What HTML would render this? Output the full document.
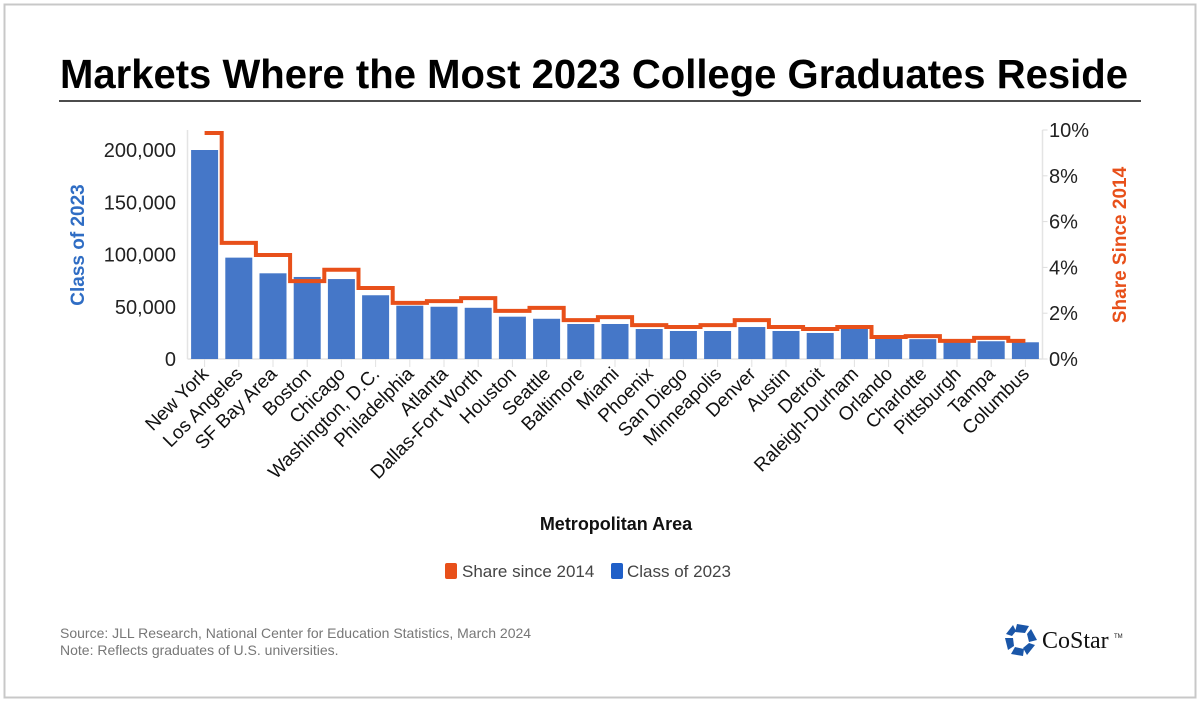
<!DOCTYPE html>
<html><head><meta charset="utf-8"><style>
html,body{margin:0;padding:0;background:#fff}
svg{display:block;font-family:"Liberation Sans",Arial,sans-serif}
</style></head><body>
<svg id="chart" width="1200" height="702" viewBox="0 0 1200 702" xmlns="http://www.w3.org/2000/svg">
<rect x="4.5" y="4.5" width="1191" height="693" fill="#fff" stroke="#c8c8c8" stroke-width="2"/>
<text x="60" y="88" font-size="41" font-weight="bold" fill="#000" textLength="1068" lengthAdjust="spacingAndGlyphs">Markets Where the Most 2023 College Graduates Reside</text>
<line x1="59" y1="101" x2="1141" y2="101" stroke="#111" stroke-width="1.5"/>
<g id="axes"></g>
<g id="bars"></g>
<path id="share-line" fill="none" stroke="#e8501a" stroke-width="4"/>
<g id="xlabels"></g>
<text transform="translate(84,245) rotate(-90)" text-anchor="middle" font-size="19" font-weight="bold" fill="#2f6dc4">Class of 2023</text>
<text transform="translate(1126,245) rotate(-90)" text-anchor="middle" font-size="19" font-weight="bold" fill="#e8501a">Share Since 2014</text>
<text x="616" y="530" text-anchor="middle" font-size="18" font-weight="bold" fill="#111">Metropolitan Area</text>
<g>
<rect x="445" y="563" width="12" height="16" rx="2" fill="#e8501a"/>
<text x="462" y="577" font-size="17" fill="#444">Share since 2014</text>
<rect x="611" y="563" width="12" height="16" rx="2" fill="#1f5fc8"/>
<text x="627" y="577" font-size="17" fill="#444">Class of 2023</text>
</g>
<text x="60" y="638" font-size="14" fill="#777">Source: JLL Research, National Center for Education Statistics, March 2024</text>
<text x="60" y="655" font-size="14" fill="#777">Note: Reflects graduates of U.S. universities.</text>
<g>
<g transform="translate(1021,640)" fill="#1a56a8">
<polygon points="-4,-16 8,-14 4,-7 -6,-8"/>
<polygon points="10,-11 16,0 8,2 6,-6"/>
<polygon points="14,5 6,15 2,8 8,3"/>
<polygon points="2,16 -10,14 -6,7 3,9"/>
<polygon points="-13,10 -16,-2 -8,-2 -7,6"/>
<polygon points="-15,-6 -8,-15 -5,-9 -9,-4"/>
</g>
<text x="1042" y="648" font-family="Liberation Serif,serif" font-size="24" fill="#111">CoStar</text>
<text x="1114" y="638" font-size="6" fill="#111">TM</text>
</g>
</svg>
<script>
const categories=["New York","Los Angeles","SF Bay Area","Boston","Chicago","Washington, D.C.","Philadelphia","Atlanta","Dallas-Fort Worth","Houston","Seattle","Baltimore","Miami","Phoenix","San Diego","Minneapolis","Denver","Austin","Detroit","Raleigh-Durham","Orlando","Charlotte","Pittsburgh","Tampa","Columbus"];
const classValues=[200000,97000,82000,78500,76500,61000,51000,50000,49000,40500,38500,33500,33500,28700,26800,26800,30600,26800,24900,29700,20000,19000,17000,17000,16000];
const shareValues=[9.87,5.07,4.54,3.4,3.9,3.1,2.45,2.53,2.66,2.1,2.23,1.7,1.83,1.48,1.4,1.48,1.7,1.4,1.31,1.4,0.96,1.0,0.79,0.92,0.79];
const leftTicks=[0,50000,100000,150000,200000];
const leftTickLabels=["0","50,000","100,000","150,000","200,000"];
const rightTicks=[0,2,4,6,8,10];
const rightTickLabels=["0%","2%","4%","6%","8%","10%"];

const NS="http://www.w3.org/2000/svg";
const X0=187.5,X1=1042.5,Y0=359,YT=130;
const pitch=(X1-X0)/categories.length;
const xc=i=>X0+pitch*(i+0.5);
const yL=v=>Y0-v*(Y0-150)/200000;
const yR=v=>Y0-v*(Y0-YT)/10;
function mk(tag,attrs,parent,txt){const e=document.createElementNS(NS,tag);for(const k in attrs)e.setAttribute(k,attrs[k]);if(txt!==undefined)e.textContent=txt;parent.appendChild(e);return e;}
const axes=document.getElementById('axes');
let l=mk('line',{x1:X0,y1:YT,x2:X0,y2:Y0,stroke:'#e4e4e4','stroke-width':1.5},axes);


l=mk('line',{x1:X1,y1:YT,x2:X1,y2:Y0,stroke:'#e4e4e4','stroke-width':1.5},axes);


l=mk('line',{x1:X0,y1:Y0,x2:X1,y2:Y0,stroke:'#e4e4e4','stroke-width':1.5},axes);


leftTicks.forEach((t,i)=>{
  const tx=mk('text',{x:176,y:yL(t)+7,'text-anchor':'end','font-size':20,fill:'#222'},axes,leftTickLabels[i]);
  
  
});
rightTicks.forEach((t,i)=>{
  const tk=mk('line',{x1:X1,y1:yR(t),x2:X1+5,y2:yR(t),stroke:'#ddd'},axes);
  
  
  const tx=mk('text',{x:1049,y:yR(t)+7,'font-size':20,fill:'#222'},axes,rightTickLabels[i]);
  
  
});
const bars=document.getElementById('bars');
const xl=document.getElementById('xlabels');
categories.forEach((c,i)=>{
  const b=mk('rect',{x:xc(i)-13.5,y:yL(classValues[i]),width:27,height:Y0-yL(classValues[i]),fill:'#4577c8'},bars);
  
  
  const tk=mk('line',{x1:xc(i),y1:Y0,x2:xc(i),y2:Y0+8,stroke:'#e2e2e2'},xl);
  
  
  const t=mk('text',{transform:`translate(${xc(i)+5},${Y0+16}) rotate(-45)`,'text-anchor':'end','font-size':19,fill:'#111'},xl,c);
  
  
});
let d='';
shareValues.forEach((v,i)=>{
  const a=i===0?xc(0):xc(i)-pitch/2;
  const b=i===shareValues.length-1?xc(i):xc(i)+pitch/2;
  d+=(i===0?'M':'L')+a+','+yR(v)+'L'+b+','+yR(v);
});
document.getElementById('share-line').setAttribute('d',d);
</script>
</body></html>
